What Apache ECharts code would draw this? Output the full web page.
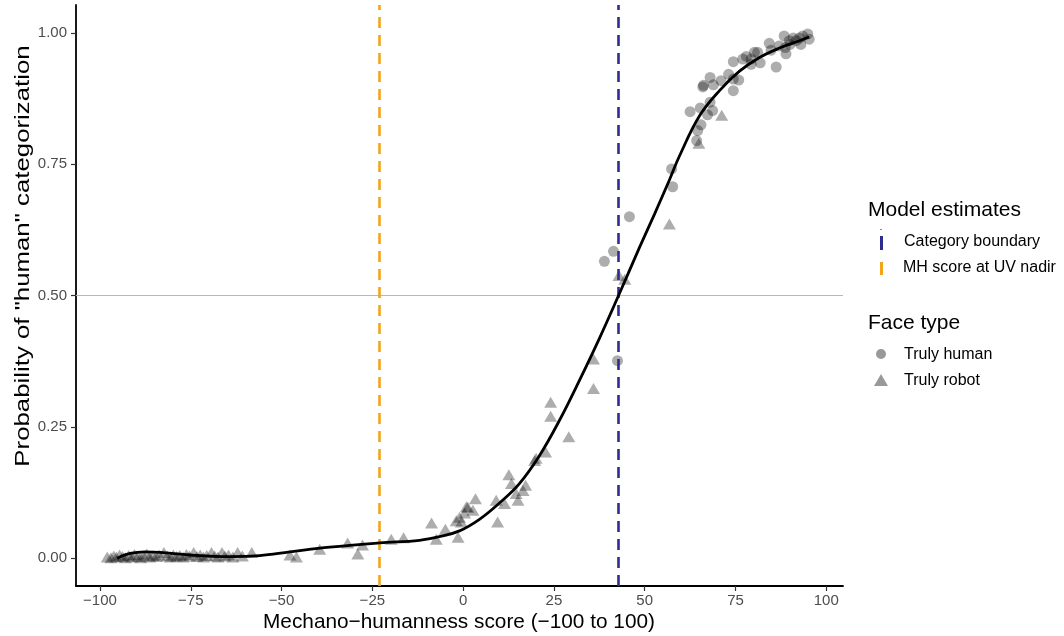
<!DOCTYPE html>
<html>
<head>
<meta charset="utf-8">
<script src="https://cdn.jsdelivr.net/npm/echarts@6/dist/echarts.min.js"></script>
<style>html,body{margin:0;padding:0;background:#fff}#c{width:1064px;height:636px}</style>
</head>
<body>
<div id="c"></div>
<script>
// ---- Data ----
const xTicks = [-100, -75, -50, -25, 0, 25, 50, 75, 100];
const yTicks = [0, 0.25, 0.5, 0.75, 1];
const categoryBoundary = 42.8;
const uvNadir = -23;
const trulyHuman = [
  [38.9,0.565],[41.4,0.584],[42.5,0.376],[45.8,0.65],[57.7,0.707],[57.4,0.741],
  [64.3,0.795],[64.6,0.814],[65.5,0.825],[62.5,0.85],[65.3,0.857],[67.3,0.844],
  [68,0.868],[68.7,0.852],[66,0.897],[66.2,0.9],[68,0.915],[68.9,0.901],[71,0.909],
  [73.1,0.921],[74.4,0.912],[74.4,0.89],[75.9,0.91],[74.4,0.945],[79.3,0.95],
  [80.2,0.963],[79.3,0.94],[81.8,0.943],[81.1,0.963],[84.3,0.98],[84.8,0.967],
  [86.2,0.935],[88.4,0.994],[88.7,0.972],[88.9,0.96],[89.8,0.985],[90.9,0.99],
  [91.7,0.985],[93,0.978],[93.5,0.994],[94.9,0.998],[95.3,0.988],[92.6,0.99],
  [90,0.978],[87,0.975],[78,0.955],[77,0.95]
];
const trulyRobot = [
  [-98,0.002],[-97,0.001],[-96.2,0.004],[-95.5,0.002],[-94.6,0.006],[-93.8,0.003],
  [-93,0.001],[-92.1,0.005],[-91.3,0.002],[-90.5,0.007],[-89.6,0.003],[-88.8,0.001],
  [-88,0.004],[-87.1,0.008],[-86.3,0.002],[-85.4,0.005],[-84.5,0.003],[-83.7,0.006],
  [-82.4,0.011],[-81.5,0.004],[-80.6,0.002],[-79.8,0.006],[-78.9,0.003],[-78,0.005],
  [-77.1,0.002],[-76.2,0.007],[-75.4,0.004],[-74.2,0.011],[-73.3,0.003],[-72.4,0.006],
  [-71.5,0.002],[-70.6,0.005],[-69.3,0.011],[-68.4,0.004],[-67.5,0.002],[-66.4,0.011],
  [-65.6,0.004],[-64.6,0.006],[-63.4,0.002],[-62.1,0.011],[-60.8,0.004],[-58.2,0.011],
  [-47.7,0.006],[-45.9,0.002],[-39.5,0.017],[-31.8,0.029],[-29,0.008],[-27.7,0.025],
  [-19.8,0.036],[-16.4,0.039],[-8.7,0.067],[-7.4,0.036],[-4.9,0.055],[-1.4,0.04],
  [-1.9,0.071],[-0.5,0.069],[-1,0.078],[0.4,0.086],[0.9,0.098],[1.3,0.097],
  [2.7,0.091],[3.4,0.113],[9.1,0.11],[9.5,0.069],[11.4,0.104],[12.6,0.159],
  [13.3,0.142],[14.6,0.123],[15.1,0.11],[16.5,0.129],[17.2,0.139],[19.7,0.186],
  [20.1,0.19],[22.7,0.202],[24.1,0.297],[24.1,0.27],[29.1,0.231],[35.9,0.379],
  [35.9,0.323],[42.9,0.538],[44.5,0.531],[56.8,0.636],[64.9,0.79],[71.2,0.843]
];
const modelCurve = [
  [-95.3,0.0],[-91.7,0.009],[-87.6,0.012],[-83.5,0.011],[-75.2,0.006],[-64.2,0.003],
  [-56,0.005],[-47.7,0.012],[-36.7,0.021],[-23,0.029],[-12,0.034],[-6.5,0.041],
  [-1,0.052],[4.5,0.074],[10,0.105],[15.5,0.142],[21,0.195],[26.5,0.262],[32,0.338],
  [37.5,0.418],[42.8,0.5],[48.6,0.592],[52.7,0.655],[56.8,0.72],[59.6,0.766],
  [65.1,0.842],[70.6,0.89],[76.1,0.927],[81.6,0.953],[87.1,0.971],[92.6,0.985],[95.3,0.992]
];

const FONT = '"Liberation Sans", Arial, sans-serif';
const ptFill = 'rgba(0,0,0,0.4)';
const BLUE = '#2d2d8f';
const ORANGE = '#f2a51a';
const chart = echarts.init(document.getElementById('c'));
chart.setOption({
  animation: false,
  backgroundColor: '#fff',
  textStyle: {fontFamily: FONT},
  grid: {left: 76, right: 221, top: 5, bottom: 50, containLabel: false},
  xAxis: {
    type: 'value', min: -106.6, max: 104.6,
    axisLine: {show: true, onZero: false, lineStyle: {color: '#000', width: 1.8}},
    axisTick: {show: true, length: 5, customValues: xTicks, lineStyle: {color: '#333', width: 1.2}},
    axisLabel: {customValues: xTicks, fontSize: 15, color: '#4d4d4d', margin: 7, fontFamily: FONT,
      formatter: v => String(v).replace('-', '\u2212')},
    splitLine: {show: false}
  },
  yAxis: {
    type: 'value', min: -0.053, max: 1.053,
    axisLine: {show: true, onZero: false, lineStyle: {color: '#000', width: 1.8}},
    axisTick: {show: true, length: 5, customValues: yTicks, lineStyle: {color: '#333', width: 1.2}},
    axisLabel: {customValues: yTicks, fontSize: 15, color: '#4d4d4d', margin: 9, fontFamily: FONT,
      formatter: v => v.toFixed(2)},
    splitLine: {show: false}
  },
  graphic: [
    // axis titles
    {type: 'text', x: 459, y: 622, style: {text: 'Mechano\u2212humanness score (\u2212100 to 100)', fontSize: 20.8,
      fill: '#000', fontFamily: FONT, align: 'center', verticalAlign: 'middle'}},
    {type: 'text', x: 23, y: 256, rotation: Math.PI / 2, scaleX: 1.29,
      style: {text: 'Probability of "human" categorization', fontSize: 20,
      fill: '#000', fontFamily: FONT, align: 'center', verticalAlign: 'middle'}},
    // legend: model estimates
    {type: 'text', x: 868, y: 210, style: {text: 'Model estimates', fontSize: 21, fill: '#000', fontFamily: FONT, verticalAlign: 'middle'}},
    {type: 'rect', shape: {x: 880, y: 229, width: 2, height: 1}, style: {fill: '#8080c0'}},
    {type: 'rect', shape: {x: 880, y: 236, width: 3, height: 14}, style: {fill: BLUE}},
    {type: 'text', x: 904, y: 242, style: {text: 'Category boundary', fontSize: 16, fill: '#000', fontFamily: FONT, verticalAlign: 'middle'}},
    {type: 'rect', shape: {x: 880, y: 262, width: 3, height: 13}, style: {fill: ORANGE}},
    {type: 'text', x: 903, y: 268, style: {text: 'MH score at UV nadir', fontSize: 16, fill: '#000', fontFamily: FONT, verticalAlign: 'middle'}},
    // legend: face type
    {type: 'text', x: 868, y: 323, style: {text: 'Face type', fontSize: 21, fill: '#000', fontFamily: FONT, verticalAlign: 'middle'}},
    {type: 'circle', shape: {cx: 881, cy: 354, r: 5}, style: {fill: '#999999'}},
    {type: 'text', x: 904, y: 355, style: {text: 'Truly human', fontSize: 16, fill: '#000', fontFamily: FONT, verticalAlign: 'middle'}},
    {type: 'polygon', shape: {points: [[881, 374], [888, 386], [874, 386]]}, style: {fill: '#999999'}},
    {type: 'text', x: 904, y: 381, style: {text: 'Truly robot', fontSize: 16, fill: '#000', fontFamily: FONT, verticalAlign: 'middle'}}
  ],
  series: [
    {
      name: 'refs', type: 'line', data: [], silent: true,
      markLine: {
        silent: true, symbol: 'none', label: {show: false},
        data: [
          {yAxis: 0.5, lineStyle: {color: '#b8b8b8', width: 1.2, type: 'solid'}},
          {xAxis: uvNadir, lineStyle: {color: ORANGE, width: 2.6, type: [11, 7]}},
          {xAxis: categoryBoundary, lineStyle: {color: BLUE, width: 2.6, type: [11, 7]}}
        ]
      },
      z: 1
    },
    {
      name: 'Truly robot', type: 'scatter', symbol: 'triangle', symbolSize: [13, 11],
      data: trulyRobot, itemStyle: {color: ptFill}, z: 3
    },
    {
      name: 'Truly human', type: 'scatter', symbol: 'circle', symbolSize: 11,
      data: trulyHuman, itemStyle: {color: ptFill}, z: 3
    },
    {
      name: 'curve', type: 'line', data: modelCurve, smooth: 0.4, showSymbol: false,
      lineStyle: {color: '#000', width: 2.8}, z: 5, silent: true
    }
  ]
});
</script>
</body>
</html>
